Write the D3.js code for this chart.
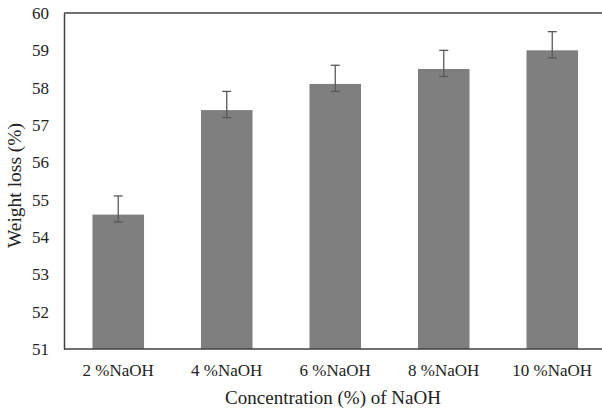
<!DOCTYPE html>
<html><head><meta charset="utf-8">
<script src="https://cdn.jsdelivr.net/npm/d3@7"></script>
<style>body{margin:0;background:#fff}svg{display:block}
svg text{font-family:"Liberation Serif","DejaVu Serif",serif !important;}</style>
</head><body>
<svg id="c" width="602" height="411"></svg>
<script>
const categories = ["2 %NaOH", "4 %NaOH", "6 %NaOH", "8 %NaOH", "10 %NaOH"];
const values = [54.6, 57.4, 58.1, 58.5, 59.0];
const errPlus = [0.5, 0.5, 0.5, 0.5, 0.5];
const errMinus = [0.2, 0.2, 0.2, 0.2, 0.2];
const yTicks = [51, 52, 53, 54, 55, 56, 57, 58, 59, 60];

(function () {
const svg = d3.select("#c");
const mLeft = 64, mRight = 606.5, mTop = 13, mBottom = 349;

const x = d3.scaleBand().domain(categories).range([mLeft, mRight]).paddingInner(0.525).paddingOuter(0.2625);
const y = d3.scaleLinear().domain([51, 60]).range([mBottom, mTop]);

// bars
svg.append("g").selectAll("rect").data(values).join("rect")
  .attr("x", (d, i) => x(categories[i]))
  .attr("width", x.bandwidth())
  .attr("y", d => y(d))
  .attr("height", d => y(51) - y(d))
  .attr("fill", "#7f7f7f");

// error bars
const eb = svg.append("g").attr("stroke", "#595959").attr("stroke-width", 1.3);
values.forEach((v, i) => {
  const cx = x(categories[i]) + x.bandwidth() / 2;
  const y1 = y(v + errPlus[i]), y2 = y(v - errMinus[i]);
  eb.append("line").attr("x1", cx).attr("x2", cx).attr("y1", y1).attr("y2", y2);
  eb.append("line").attr("x1", cx - 4.5).attr("x2", cx + 4.5).attr("y1", y1).attr("y2", y1);
  eb.append("line").attr("x1", cx - 4.5).attr("x2", cx + 4.5).attr("y1", y2).attr("y2", y2);
});

// top frame line
svg.append("line").attr("x1", mLeft).attr("x2", 602).attr("y1", mTop).attr("y2", mTop)
  .attr("stroke", "#404040").attr("stroke-width", 1.5);

// y axis
const ya = svg.append("g").attr("transform", `translate(${mLeft},0)`)
  .call(d3.axisLeft(y).tickValues(yTicks).tickSize(0).tickPadding(15).tickFormat(d3.format("d")));
ya.select(".domain").attr("stroke", "#404040").attr("stroke-width", 1.5);
ya.selectAll("text").attr("font-size", 17).attr("fill", "#222");

// x axis
const xa = svg.append("g").attr("transform", `translate(0,${mBottom})`)
  .call(d3.axisBottom(x).tickSize(0).tickPadding(15));
xa.select(".domain").attr("d", `M${mLeft},0H602`).attr("stroke", "#404040").attr("stroke-width", 1.5);
xa.selectAll("text").attr("font-size", 17).attr("fill", "#222");

// titles
svg.append("text").attr("x", 333).attr("y", 404).attr("text-anchor", "middle")
  .attr("font-size", 19).attr("fill", "#222")
  .text("Concentration (%) of NaOH");
svg.append("text").attr("transform", "translate(21,185.5) rotate(-90)").attr("text-anchor", "middle")
  .attr("font-size", 19.5).attr("fill", "#222")
  .text("Weight loss (%)");
})();
</script>
</body></html>
